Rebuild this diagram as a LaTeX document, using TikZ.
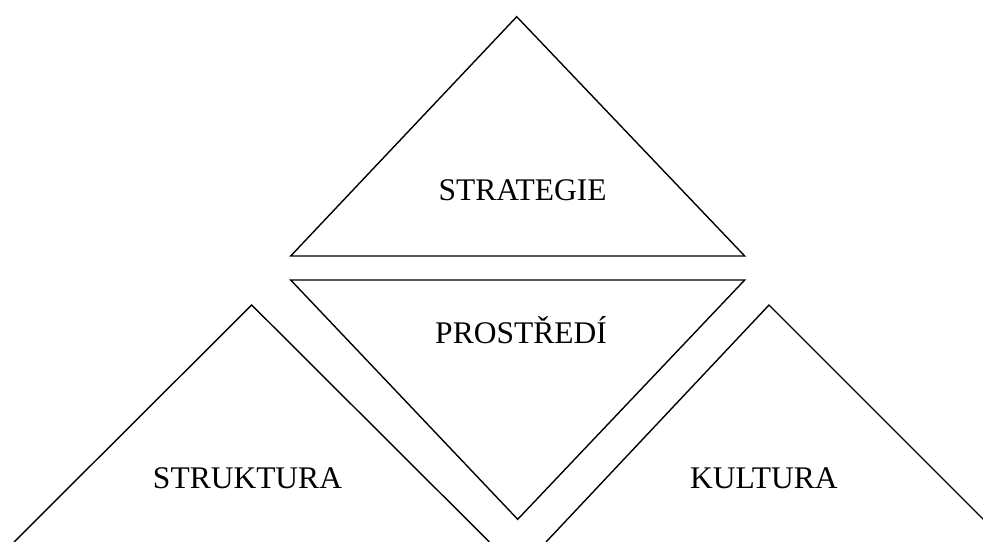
\documentclass[tikz,border=0pt]{standalone}
\usepackage{fontspec}
\setmainfont{Liberation Serif}
\begin{document}
\begin{tikzpicture}[x=0.5pt,y=-0.5pt,
  tri/.style={draw=black,line width=0.7pt,line join=miter},
  lbl/.style={anchor=base,inner sep=0pt,font=\fontsize{15.75pt}{18pt}\selectfont}]
\useasboundingbox (0,0) rectangle (983,541);
\clip (0,0) rectangle (983,541);
\fill[white] (0,0) rectangle (983,541);
% top triangle
\draw[tri] (516.7,16.7) -- (744.7,256) -- (290.7,256) -- cycle;
% inverted triangle
\draw[tri] (290.7,280) -- (744.7,280) -- (517.7,519.3) -- cycle;
% left triangle (cut by the lower edge)
\draw[tri] (14,542) -- (251.7,305) -- (489.4,542);
% right triangle (cut by the edges)
\draw[tri] (546,542) -- (769,305) -- (1006,542);
\node[lbl] (strategie) at (522.5,200) {STRATEGIE};
\node[lbl] (prostredi) at (521,343) {PROSTŘEDÍ};
\node[lbl] (struktura) at (247.5,488.3) {STRUKTURA};
\node[lbl] (kultura) at (763.8,488.3) {KULTURA};
\end{tikzpicture}
\end{document}
